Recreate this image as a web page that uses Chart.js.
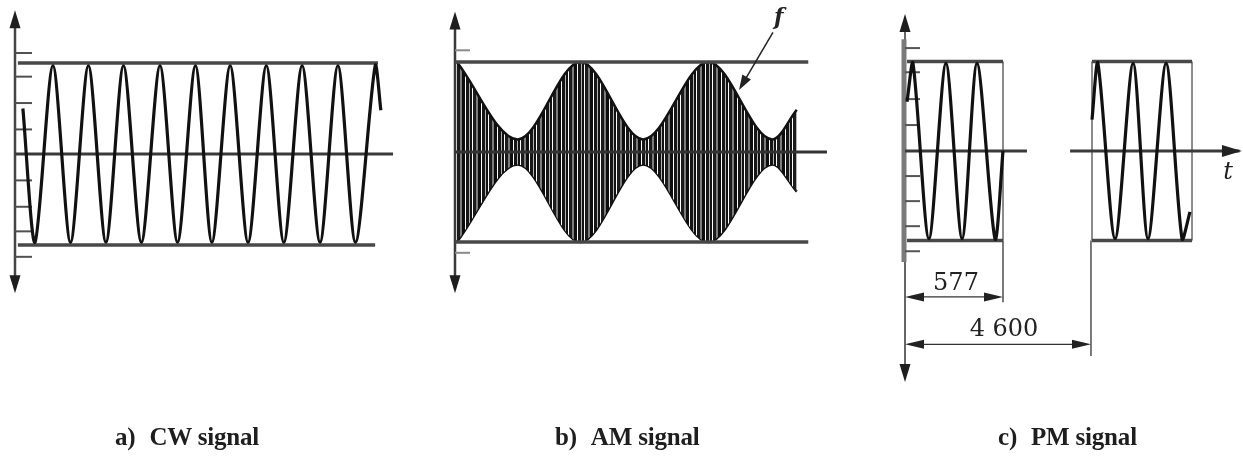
<!DOCTYPE html>
<html><head><meta charset="utf-8">
<script src="https://cdn.jsdelivr.net/npm/chart.js@4.4.1/dist/chart.umd.min.js"></script>
<style>
html,body{margin:0;padding:0;background:#fff;}
#wrap{position:relative;width:1243px;height:456px;overflow:hidden;background:#fff;}
#wrap canvas{position:absolute;top:0;}
.cap{position:absolute;top:424px;font:bold 25px "Liberation Serif",serif;line-height:25px;color:#1e1e1e;white-space:nowrap;letter-spacing:-0.2px;}
.cap span+span{margin-left:14px;}
</style></head><body>
<div id="wrap">
<canvas id="cA" width="430" height="456" style="left:0px"></canvas>
<canvas id="cB" width="450" height="456" style="left:430px"></canvas>
<canvas id="cC" width="363" height="456" style="left:880px"></canvas>
</div>
<script>
// ---------------- DATA ----------------
// captions
const captions = [['a)','CW signal'],['b)','AM signal'],['c)','PM signal']];

// a) CW signal: carrier extremes (time in carrier periods, amplitude relative to rails)
const cwTime  = [0.22,0.56,1.06,1.55,2.05,2.54,3.03,3.53,4.05,4.54,5.04,5.50,6.01,6.51,7.02,7.51,8.02,8.52,9.02,9.51,10.06,10.22];
const cwValue = [0.50,-0.97,0.97,-0.97,0.97,-0.97,0.97,-0.97,0.97,-0.97,0.97,-0.97,0.97,-0.97,0.97,-0.97,0.97,-0.97,0.97,-0.97,0.97,0.48];
const cwRailTop = [0.08,10.14];
const cwRailBottom = [0.08,10.06];
const cwMidLine = [0,10.56];
const cwTicks = [1.11,0.85,0.56,0.27,-0.29,-0.58,-0.85,-1.13];
const cwAxis = [1.58,-1.53];

// b) AM signal: envelope extremes (time in arbitrary units)
const amTime  = [0.15,4.9,9.8,14.7,19.8,24.8,26.7];
const amUpper = [1.0,0.14,1.0,0.14,1.0,0.14,0.47];
const amLower = [-1.0,-0.14,-1.0,-0.14,-1.0,-0.14,-0.44];
const amRail = [0,27.6];
const amMidLine = [0,29.06];
const amTicks = [1.13,-1.12];
const amAxis = [1.56,-1.57];
const amPointerLabel = 'f';
const amPointerText = [25.3,1.49];
const amPointerFrom = [24.84,1.33];
const amPointerTo = [22.19,0.69];

// c) PM signal: two bursts (schematic time units)
const pmBurst1Time  = [12,47,141,241,336,424,530,577];
const pmBurst1Value = [0.55,0.98,-0.98,0.98,-0.98,0.98,-0.98,0];
const pmBurst2Time  = [1101,1136,1237,1343,1431,1537,1631,1678];
const pmBurst2Value = [0.35,0.98,-0.98,0.98,-0.98,0.98,-0.98,-0.68];
const pmSlotStart = [12,1101];
const pmSlotEnd   = [577,1690];
const pmMidStart  = [0,972];
const pmMidEnd    = [718,1984];
const pmTicks = [1.15,0.88,0.58,0.29,-0.28,-0.56,-0.84,-1.12];
const pmAxis = [1.53,-2.58];
const pmAxisBand = [1.25,-1.24];
const pmDimLabels = ['577','4 600'];
const pmDimEnd = [577,1095];
const pmDimLevel = [-1.63,-2.16];
const pmDimExtension = [-1.69,-2.29];
const pmDimTextLevel = [-1.55,-2.07];
const pmAxisLabel = 't';
const pmAxisLabelPos = [1902,-0.24];

// ---------------- LAYOUT ----------------
const H = 456;
const layout = {
  A:{left:0,width:430,originX:15,pxX:35.8,centerY:154,pxY:91},
  B:{left:430,width:450,originX:25,pxX:12.8,centerY:152,pxY:90},
  C:{left:880,width:363,originX:25,pxX:0.16984,centerY:151,pxY:89.5}
};
const capLeft = [115,555,998];

captions.forEach((c,i)=>{
  const d=document.createElement('div');d.className='cap';d.style.left=capLeft[i]+'px';
  const s1=document.createElement('span');s1.textContent=c[0];
  const s2=document.createElement('span');s2.textContent=c[1];
  d.appendChild(s1);d.appendChild(s2);document.getElementById('wrap').appendChild(d);
});

function scalesFor(L){
  return {
    x:{type:'linear',display:false,min:-L.originX/L.pxX,max:(L.width-L.originX)/L.pxX},
    y:{type:'linear',display:false,min:-(H-L.centerY)/L.pxY,max:L.centerY/L.pxY}
  };
}
const pts=(xs,ys)=>xs.map((x,i)=>({x:x,y:ys[i]}));
const hline=(xs,v)=>xs.map(x=>({x:x,y:v}));
function wave(data){return {data,borderColor:'#111',borderWidth:3.2,pointRadius:0,tension:0.28,capBezierPoints:true,fill:false,order:0,borderJoinStyle:'round'};}
function rail(data,color,w){return {data,borderColor:color||'#484848',borderWidth:w||3.5,pointRadius:0,tension:0,fill:false,order:1};}

function head(c,x,y,dx,dy,len,half){
  const bx=x-dx*len, by=y-dy*len;
  c.beginPath();c.moveTo(x,y);
  c.lineTo(bx-dy*half,by+dx*half);
  c.lineTo(bx+dy*half,by-dx*half);
  c.closePath();c.fill();
}
function deco(under,over){
  return {id:'deco',
    beforeDatasetsDraw(ch){const c=ch.ctx;c.save();under&&under(c,v=>ch.scales.x.getPixelForValue(v),v=>ch.scales.y.getPixelForValue(v));c.restore();},
    afterDatasetsDraw(ch){const c=ch.ctx;c.save();over&&over(c,v=>ch.scales.x.getPixelForValue(v),v=>ch.scales.y.getPixelForValue(v));c.restore();}
  };
}
function drawAxis(c,X,Y,ends,color,w){
  const ax=X(0);
  c.strokeStyle=color;c.lineWidth=w;
  c.beginPath();c.moveTo(ax,Y(ends[0])+12);c.lineTo(ax,Y(ends[1])-12);c.stroke();
  c.fillStyle='#1e1e1e';
  head(c,ax,Y(ends[0]),0,-1,18,5.5);
  head(c,ax,Y(ends[1]),0,1,18,5.5);
}
function drawTicks(c,X,Y,vals,len,color){
  const ax=X(0);c.strokeStyle=color;c.lineWidth=2;
  vals.forEach(v=>{c.beginPath();c.moveTo(ax,Y(v));c.lineTo(ax+len,Y(v));c.stroke();});
}
const baseOpts=(L)=>({responsive:false,animation:false,devicePixelRatio:1,events:[],
  layout:{padding:0},scales:scalesFor(L),
  plugins:{legend:{display:false},tooltip:{enabled:false},title:{display:false}}});

// ---------- a) CW ----------
new Chart(document.getElementById('cA'),{
  type:'line',
  data:{datasets:[
    wave(pts(cwTime,cwValue)),
    rail(hline(cwRailTop,1)),
    rail(hline(cwRailBottom,-1)),
    rail(hline(cwMidLine,0),'#3a3a3a',3)
  ]},
  options:baseOpts(layout.A),
  plugins:[deco((c,X,Y)=>{
    drawAxis(c,X,Y,cwAxis,'#454545',2.5);
    drawTicks(c,X,Y,cwTicks,17,'#505050');
  })]
});

// ---------- b) AM ----------
function stripePattern(ctx){
  const p=document.createElement('canvas');p.width=16;p.height=4;
  const g=p.getContext('2d');
  g.fillStyle='#fff';g.fillRect(0,0,16,4);
  [[0,3,'#0d0d0d'],[3,1,'#ffffff'],[4,3,'#161616'],[7,1,'#b5b5b5'],[8,2,'#111'],[10,1,'#ffffff'],[11,3,'#1c1c1c'],[14,2,'#7d7d7d']]
    .forEach(s=>{g.fillStyle=s[2];g.fillRect(s[0],0,s[1],4);});
  return ctx.createPattern(p,'repeat');
}
const cB=document.getElementById('cB');
const pat=stripePattern(cB.getContext('2d'));
new Chart(cB,{
  type:'line',
  data:{datasets:[
    {data:pts(amTime,amUpper),borderColor:'#111',borderWidth:2.5,pointRadius:0,cubicInterpolationMode:'monotone',fill:'+1',backgroundColor:pat,order:3},
    {data:pts(amTime,amLower),borderColor:'#111',borderWidth:2.5,pointRadius:0,cubicInterpolationMode:'monotone',fill:false,order:3},
    rail(hline(amRail,1)),
    rail(hline(amRail,-1)),
    rail(hline(amMidLine,0),'#333',3)
  ]},
  options:baseOpts(layout.B),
  plugins:[deco((c,X,Y)=>{
    drawAxis(c,X,Y,amAxis,'#3a3a3a',2.5);
    drawTicks(c,X,Y,amTicks,15,'#8a8a8a');
  },(c,X,Y)=>{
    const x0=X(amPointerFrom[0]),y0=Y(amPointerFrom[1]),x1=X(amPointerTo[0]),y1=Y(amPointerTo[1]);
    const L=Math.hypot(x1-x0,y1-y0),dx=(x1-x0)/L,dy=(y1-y0)/L;
    c.strokeStyle='#222';c.lineWidth=1.5;
    c.beginPath();c.moveTo(x0,y0);c.lineTo(x1-dx*10,y1-dy*10);c.stroke();
    c.fillStyle='#222';head(c,x1,y1,dx,dy,15,5);
    c.font='italic bold 22px "DejaVu Serif", serif';c.textAlign='center';c.textBaseline='middle';
    c.fillText(amPointerLabel,X(amPointerText[0]),Y(amPointerText[1]));
  })]
});

// ---------- c) PM ----------
new Chart(document.getElementById('cC'),{
  type:'line',
  data:{datasets:[
    wave(pts(pmBurst1Time,pmBurst1Value)),
    wave(pts(pmBurst2Time,pmBurst2Value)),
    rail([{x:pmSlotStart[0],y:1},{x:pmSlotEnd[0],y:1}]),
    rail([{x:pmSlotStart[0],y:-1},{x:pmSlotEnd[0],y:-1}]),
    rail([{x:pmSlotStart[1],y:1},{x:pmSlotEnd[1],y:1}]),
    rail([{x:pmSlotStart[1],y:-1},{x:pmSlotEnd[1],y:-1}]),
    rail(hline([pmMidStart[0],pmMidEnd[0]],0),'#3a3a3a',3),
    rail(hline([pmMidStart[1],pmMidEnd[1]-15],0),'#3a3a3a',3)
  ]},
  options:baseOpts(layout.C),
  plugins:[deco((c,X,Y)=>{
    const ax=X(0);
    drawAxis(c,X,Y,pmAxis,'#333',1.5);
    c.strokeStyle='#7a7a7a';c.lineWidth=5;
    c.beginPath();c.moveTo(ax-1,Y(pmAxisBand[0]));c.lineTo(ax-1,Y(pmAxisBand[1]));c.stroke();
    drawTicks(c,X,Y,pmTicks,15,'#555');
    c.strokeStyle='#8c8c8c';c.lineWidth=2;
    [pmSlotStart[1],pmSlotEnd[0],pmSlotEnd[1]].forEach(t=>{c.beginPath();c.moveTo(X(t),Y(1));c.lineTo(X(t),Y(-1));c.stroke();});
    c.strokeStyle='#333';c.lineWidth=1.3;c.fillStyle='#222';
    pmDimEnd.forEach((t,i)=>{
      c.beginPath();c.moveTo(X(t),Y(-1));c.lineTo(X(t),Y(pmDimExtension[i]));c.stroke();
      const yy=Y(pmDimLevel[i]);
      c.beginPath();c.moveTo(ax+10,yy);c.lineTo(X(t)-10,yy);c.stroke();
      head(c,ax,yy,-1,0,19,4.5);head(c,X(t),yy,1,0,19,4.5);
      c.font='24px "DejaVu Serif", serif';c.textAlign='center';c.textBaseline='alphabetic';
      c.fillStyle='#222';c.fillText(pmDimLabels[i],(ax+X(t))/2+(i?6:2),Y(pmDimTextLevel[i]));
    });
  },(c,X,Y)=>{
    c.fillStyle='#222';
    head(c,X(pmMidEnd[1]),Y(0),1,0,20,6);
    c.font='italic 24px "DejaVu Serif", serif';c.textAlign='center';c.textBaseline='middle';
    c.fillText(pmAxisLabel,X(pmAxisLabelPos[0]),Y(pmAxisLabelPos[1]));
  })]
});
</script>
</body></html>
